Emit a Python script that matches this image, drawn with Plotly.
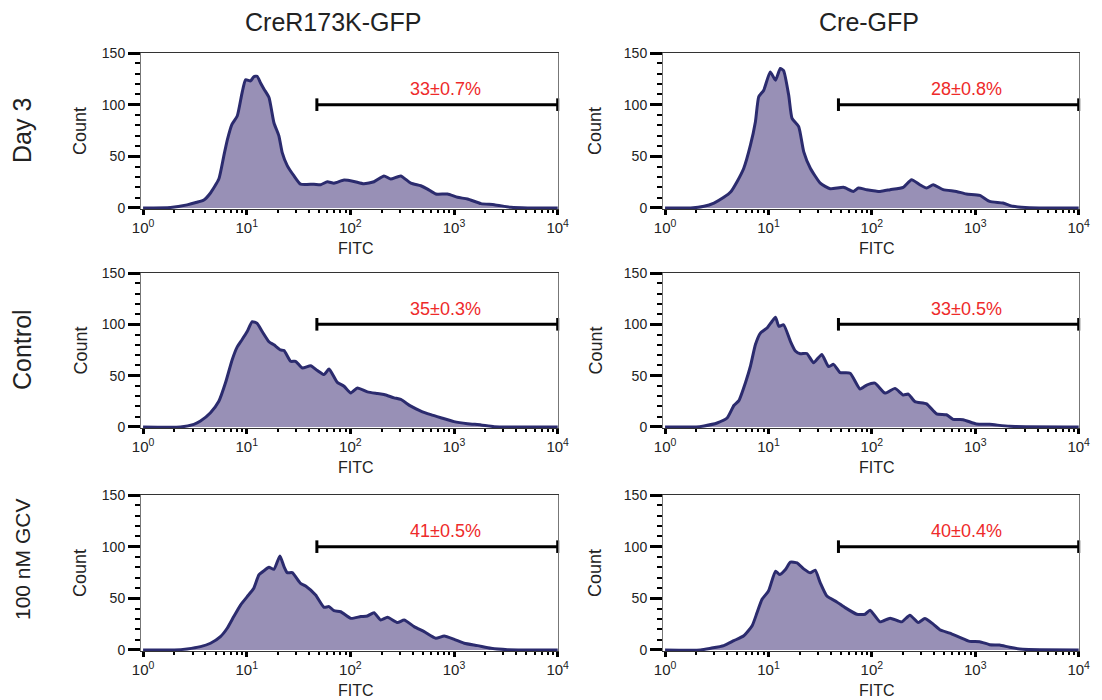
import math
import plotly.graph_objects as go

# ---------------- data ----------------
constructs = ["CreR173K-GFP", "Cre-GFP"]
conditions = ["Day 3", "Control", "100 nM GCV"]
gfp_pct = ["33±0.7%", "28±0.8%", "35±0.3%", "33±0.5%", "41±0.5%", "40±0.4%"]

gate_lo = 47.5
gate_hi = 10000
gate_count = 100

fitc_r173k_day3 = [1, 1.84, 2.66, 3.3, 3.86, 4.47, 5.38, 6.0, 6.5, 7.2, 8.1, 9.0, 9.75, 10.9, 11.7, 12.6, 13.6, 14.7, 16.4, 18.3,
                   20.4, 22, 24.6, 28.6, 33.1, 44.5, 51.7, 60, 69.5, 86.8, 108, 135, 169, 211, 245, 306, 383, 478, 555, 667,
                   865, 1081, 1350, 1820, 2445, 3540, 5130, 10000]
count_r173k_day3 = [0, 0.5, 3, 5.5, 7.7, 14.5, 28, 50, 66, 81, 89, 111, 124, 123, 127, 127.5, 121, 115, 107, 82.5,
                    70, 53.6, 41, 31, 23, 23, 22.5, 25.4, 24, 27, 25.7, 23.4, 25.4, 31, 28, 31, 24, 21.5, 18.3, 13.5,
                    13.5, 10.3, 8.7, 4.2, 3.2, 0.6, 0, 0]

fitc_cre_day3 = [1, 1.77, 2.38, 2.97, 3.7, 4.3, 4.98, 5.77, 6.7, 7.48, 8.05, 9.0, 10.4, 11.7, 13.0, 14.0, 15.7, 16.9, 19.6, 21.9,
                 25.4, 31.7, 39.5, 53.1, 66.3, 74.1, 89.1, 120, 150, 201, 242, 291, 338, 392, 489, 657, 820, 1104, 1377, 1850,
                 2311, 3343, 10000]
count_cre_day3 = [0, 0, 1.6, 4.8, 10.3, 15.4, 25.7, 38.5, 61, 83.5, 107.6, 114, 131.7, 123.7, 135, 133, 109, 86.7, 78.7, 54.6,
                  38.5, 24, 18.6, 20, 16, 19.3, 17.7, 16, 17.7, 20, 27.3, 22.5, 19.3, 22.5, 17.7, 16, 13.5, 12.2, 6.4, 4.8,
                  1.6, 0.3, 0]

fitc_r173k_ctrl = [1, 2.29, 3.09, 3.58, 4.47, 5.38, 6.24, 7.24, 8.1, 9.0, 10.1, 11.3, 12.6, 14.1, 16.4, 18.3, 21.2, 22.9, 26.5, 29.6,
                   34.4, 41.4, 48, 55.7, 62.2, 74.8, 86.8, 101, 117, 146, 182, 211, 264, 306, 383, 478, 597, 746, 1000, 1350,
                   1820, 2445, 10000]
count_r173k_ctrl = [0, 0, 2.6, 5.8, 13.9, 25, 43, 65.5, 78, 85, 93, 102.6, 101, 93, 83, 80, 75, 74.5, 64, 64,
                    57.4, 59.7, 55, 51, 56.5, 43.5, 39.7, 33.2, 38, 34.2, 32.6, 31.6, 28.4, 26.8, 20.3, 15.5, 12, 9, 5.2, 3.2,
                    2, 0.3, 0]

fitc_cre_ctrl = [1, 2.0, 2.38, 3.19, 3.98, 4.63, 5.17, 6.0, 6.7, 7.48, 8.36, 9.69, 10.8, 11.7, 12.6, 14.0, 16.3, 18.2, 20.3, 23.5,
                 27.3, 32.8, 38.1, 42.6, 49.3, 61.6, 76.9, 89.1, 107, 134, 167, 201, 225, 261, 338, 422, 526, 611, 762, 1024,
                 1377, 2148, 10000]
count_cre_ctrl = [0, 0, 1, 3.9, 8.7, 20.9, 25.7, 43.4, 59.4, 80.3, 91.5, 96.4, 102.8, 107, 98, 99.6, 83.5, 74, 71.3, 71.6,
                  62.6, 70.7, 58.8, 61, 53, 52.4, 37, 40.8, 42.7, 33, 37.6, 31.2, 32, 24.7, 22.5, 12.8, 11.9, 7.4, 7.1, 2.9,
                  2.6, 0.6, 0]

fitc_r173k_gcv = [1, 2.0, 2.66, 3.58, 4.47, 5.58, 6.48, 7.5, 8.71, 10.1, 11.7, 13.1, 14.7, 16.4, 18.3, 20.9, 22.9, 24.6, 27.5, 33.1,
                  37, 46.2, 55.7, 62.2, 69.5, 80.6, 101, 126, 146, 169, 196, 228, 285, 330, 412, 515, 667, 804, 1004, 1254,
                  1687, 2270, 3290, 10000]
count_r173k_gcv = [0, 0, 1, 3.2, 6.5, 12.9, 21, 32.3, 43.5, 51.6, 59.7, 72.6, 76.8, 80, 78, 91, 80.6, 74.8, 74.8, 64.5,
                   62, 53.2, 41.3, 42, 38, 37, 30.6, 32.3, 32.9, 36.1, 29, 31.6, 26.5, 29, 22.6, 17.7, 11.3, 13.5, 10.3, 6.5,
                   4.2, 1.6, 0.3, 0]

fitc_cre_gcv = [1, 2.2, 2.75, 3.7, 4.63, 5.77, 6.95, 7.76, 8.67, 10.0, 11.7, 12.8, 14.6, 16.3, 18.9, 21.9, 25.4, 28.3, 31.7, 36.7,
                45.8, 55.1, 71.4, 85.9, 96, 120, 150, 194, 233, 281, 325, 392, 454, 567, 708, 884, 1104, 1377, 1719, 2148,
                2884, 10000]
count_cre_gcv = [0, 0, 1.6, 4.2, 9, 13.8, 23.4, 36.2, 49, 57, 76.3, 73, 77.9, 85, 84.3, 78.5, 74.7, 77.2, 65, 52.2,
                 46.5, 41, 34.6, 34.6, 38.5, 27.2, 30.8, 27.2, 33.7, 26.6, 30.4, 25, 19.6, 16.3, 12.2, 8.3, 8, 5.1, 4.8, 2.6,
                 0.6, 0]

x_tick_vals = [1, 10, 100, 1000, 10000]
x_tick_text = ["10<sup>0</sup>", "10<sup>1</sup>", "10<sup>2</sup>", "10<sup>3</sup>", "10<sup>4</sup>"]

# ---------------- layout geometry ----------------
W, H = 1102, 700
OFF = 8  # page body margin
FONT = "Liberation Sans, Arial, Helvetica, sans-serif"
FILL = "#9890b6"
LINE = "#2b2b6e"
RED = "#ee2a2a"
TXT = "#222222"


def px(xp):
    return (xp - OFF) / W


def py(yp):
    return 1 - (yp - OFF) / H


col_px = [(141, 558), (663, 1079)]
row_px = [(53, 209), (273, 428), (495, 651)]

series = [
    (fitc_r173k_day3, count_r173k_day3), (fitc_cre_day3, count_cre_day3),
    (fitc_r173k_ctrl, count_r173k_ctrl), (fitc_cre_ctrl, count_cre_ctrl),
    (fitc_r173k_gcv, count_r173k_gcv), (fitc_cre_gcv, count_cre_gcv),
]

minor_vals = [m * 10 ** d for d in range(4) for m in range(2, 10)]

fig = go.Figure()
annotations = []
layout = {}

for i, (fx, cy) in enumerate(series):
    r, c = divmod(i, 2)
    n = i + 1
    xa = "x" if n == 1 else f"x{n}"
    ya = "y" if n == 1 else f"y{n}"
    xkey = "xaxis" if n == 1 else f"xaxis{n}"
    ykey = "yaxis" if n == 1 else f"yaxis{n}"
    x0, x1 = col_px[c]
    y0, y1 = row_px[r]

    fig.add_trace(go.Scatter(
        x=fx, y=cy, xaxis=xa, yaxis=ya, mode="lines",
        line=dict(color=LINE, width=3, shape="spline", smoothing=0.5),
        fill="tozeroy", fillcolor=FILL, hoverinfo="skip", showlegend=False,
    ))
    fig.add_trace(go.Scatter(
        x=[gate_lo, gate_hi], y=[gate_count, gate_count], xaxis=xa, yaxis=ya,
        mode="lines+markers", line=dict(color="black", width=3),
        marker=dict(symbol="line-ns-open", size=9, line=dict(color="black", width=3), color="black"),
        cliponaxis=False, hoverinfo="skip", showlegend=False,
    ))

    layout[xkey] = dict(
        type="log", range=[-0.02, 4.003], domain=[px(x0), px(x1)], anchor=ya,
        automargin=False,
        tickmode="array", tickvals=x_tick_vals, ticktext=x_tick_text,
        ticks="outside", ticklen=5, tickwidth=3, tickcolor="black",
        tickfont=dict(size=15, color=TXT, family=FONT),
        showline=True, linecolor="#333333", linewidth=1, mirror=True,
        showgrid=False, zeroline=False,
        minor=dict(tickmode="array", tickvals=minor_vals, ticks="outside", ticklen=3,
                   tickwidth=1.5, tickcolor="black", showgrid=False),
    )
    layout[ykey] = dict(
        range=[-1, 150], domain=[py(y1), py(y0)], anchor=xa,
        automargin=False,
        tickmode="linear", tick0=0, dtick=50,
        ticks="outside", ticklen=12, tickwidth=3, tickcolor="black",
        tickfont=dict(size=14, color=TXT, family=FONT),
        showline=True, linecolor="#777777", linewidth=1, mirror=True,
        showgrid=False, zeroline=False,
        minor=dict(dtick=10, ticks="outside", ticklen=5, tickwidth=1.5,
                   tickcolor="black", showgrid=False),
    )

    # percentage label
    annotations.append(dict(
        x=math.log10(830), y=115, xref=xa, yref=ya, text=gfp_pct[i], showarrow=False,
        font=dict(size=18, color=RED, family=FONT), xanchor="center", yanchor="middle",
    ))
    # Count label
    annotations.append(dict(
        x=px(x0 - 61 + (0 if c == 0 else -7)), y=py((y0 + y1) / 2), xref="paper", yref="paper",
        text="Count", textangle=-90, showarrow=False,
        font=dict(size=18, color=TXT, family=FONT), xanchor="center", yanchor="middle",
    ))
    # FITC label
    annotations.append(dict(
        x=px((x0 + x1) / 2 + 6), y=py(y1 + 39), xref="paper", yref="paper",
        text="FITC", showarrow=False,
        font=dict(size=16, color=TXT, family=FONT), xanchor="center", yanchor="middle",
    ))

# column titles
for c, name in enumerate(constructs):
    cx = [333, 869][c]
    annotations.append(dict(
        x=px(cx), y=py(22), xref="paper", yref="paper", text=name, showarrow=False,
        font=dict(size=25, color=TXT, family=FONT), xanchor="center", yanchor="middle",
    ))

# row labels
row_centers = [131, 350, 560]
row_sizes = [25, 25, 21]
for r, name in enumerate(conditions):
    annotations.append(dict(
        x=px(22), y=py(row_centers[r]), xref="paper", yref="paper", text=name,
        textangle=-90, showarrow=False,
        font=dict(size=row_sizes[r], color=TXT, family=FONT), xanchor="center", yanchor="middle",
    ))

fig.update_layout(
    width=W, height=H, margin=dict(l=0, r=0, t=0, b=0),
    paper_bgcolor="white", plot_bgcolor="white",
    font=dict(family=FONT, color=TXT),
    annotations=annotations, showlegend=False,
    **layout,
)

fig.write_html("out.html")
